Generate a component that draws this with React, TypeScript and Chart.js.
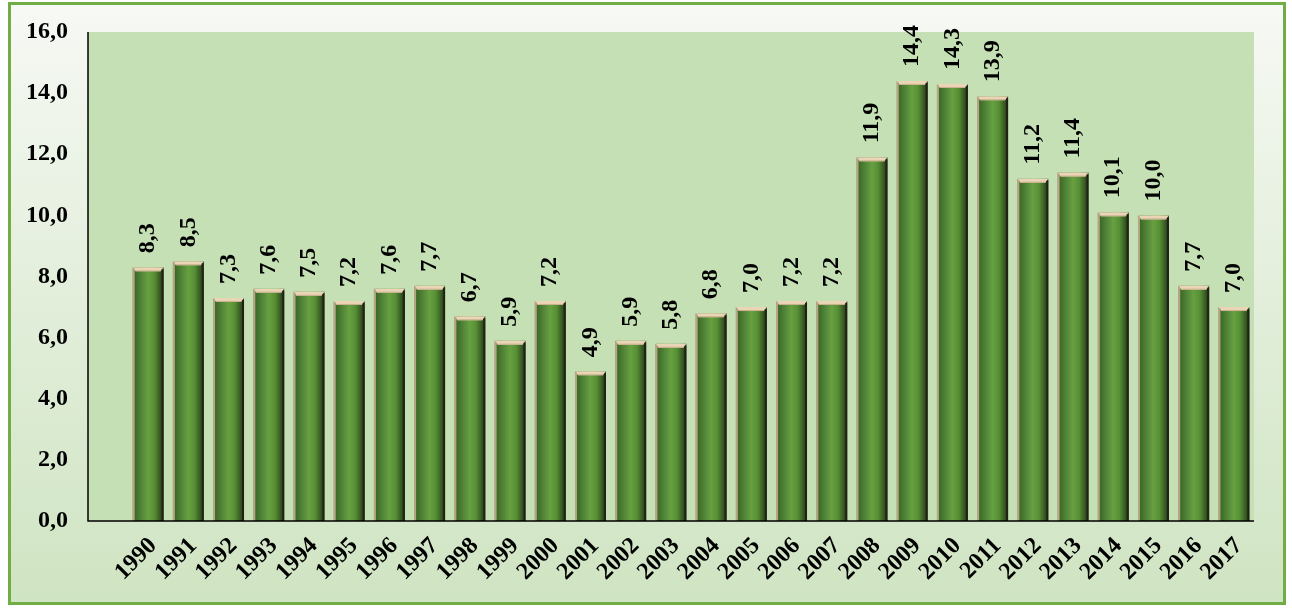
import React, { useEffect, useRef } from "react";
import { Chart, registerables } from "chart.js";

Chart.register(...registerables);

const years = [
  "1990", "1991", "1992", "1993", "1994", "1995", "1996", "1997", "1998", "1999",
  "2000", "2001", "2002", "2003", "2004", "2005", "2006", "2007", "2008", "2009",
  "2010", "2011", "2012", "2013", "2014", "2015", "2016", "2017",
];
const values = [
  8.3, 8.5, 7.3, 7.6, 7.5, 7.2, 7.6, 7.7, 6.7, 5.9,
  7.2, 4.9, 5.9, 5.8, 6.8, 7.0, 7.2, 7.2, 11.9, 14.4,
  14.3, 13.9, 11.2, 11.4, 10.1, 10.0, 7.7, 7.0,
];
const yMin = 0;
const yMax = 16;
const yStep = 2;

const FONT_FAMILY = "'Liberation Serif', 'Times New Roman', serif";
const FONT_SIZE = 24;
const fmt = (v: number) => v.toFixed(1).replace(".", ",");
const EXT_LEFT = 40;

const framePlugin = {
  id: "frame",
  beforeDraw(chart: any) {
    const { ctx, height, chartArea } = chart;
    ctx.save();
    const g = ctx.createLinearGradient(0, 0, 0, height);
    g.addColorStop(0, "#f7f9f5");
    g.addColorStop(0.5, "#e2eeda");
    g.addColorStop(1, "#cfe4c2");
    ctx.fillStyle = g;
    ctx.fillRect(9, 3, 1276, 601);
    ctx.strokeStyle = "#70AD47";
    ctx.lineWidth = 3;
    ctx.strokeRect(9.5, 3.5, 1275, 600);
    ctx.fillStyle = "#C5E0B4";
    ctx.fillRect(
      chartArea.left - EXT_LEFT,
      chartArea.top,
      chartArea.right - chartArea.left + EXT_LEFT,
      chartArea.bottom - chartArea.top
    );
    ctx.restore();
  },
  afterDatasetsDraw(chart: any) {
    const { ctx, chartArea } = chart;
    const meta = chart.getDatasetMeta(0);
    ctx.save();
    meta.data.forEach((bar: any) => {
      const w = bar.width;
      const l = bar.x - w / 2;
      const r = bar.x + w / 2;
      const t = bar.y;
      ctx.fillStyle = "#ead5b6";
      ctx.beginPath();
      ctx.moveTo(l, t);
      ctx.lineTo(r, t);
      ctx.lineTo(r - 3, t + 4);
      ctx.lineTo(l + 3, t + 4);
      ctx.closePath();
      ctx.fill();
      ctx.fillStyle = "#c9b08e";
      ctx.fillRect(l + 3, t + 3, w - 6, 1);
      ctx.fillStyle = "rgba(190,170,140,0.9)";
      ctx.fillRect(l, t + 1, 2, chartArea.bottom - t - 1);
      ctx.fillStyle = "rgba(30,30,20,0.85)";
      ctx.fillRect(r - 2, t + 2, 2, chartArea.bottom - t - 2);
    });
    ctx.strokeStyle = "#000";
    ctx.lineWidth = 1.5;
    ctx.beginPath();
    ctx.moveTo(chartArea.left - EXT_LEFT, chartArea.top);
    ctx.lineTo(chartArea.left - EXT_LEFT, chartArea.bottom);
    ctx.lineTo(chartArea.right, chartArea.bottom);
    ctx.stroke();
    ctx.fillStyle = "#000";
    ctx.font = `bold ${FONT_SIZE}px ${FONT_FAMILY}`;
    ctx.textAlign = "left";
    ctx.textBaseline = "middle";
    meta.data.forEach((bar: any, i: number) => {
      ctx.save();
      ctx.translate(bar.x, bar.y - 14);
      ctx.rotate(-Math.PI / 2);
      ctx.fillText(fmt(values[i]), 0, 0);
      ctx.restore();
    });
    ctx.restore();
  },
};

export default function App() {
  const ref = useRef<HTMLCanvasElement>(null);
  useEffect(() => {
    if (!ref.current) return;
    const chart = new Chart(ref.current, {
      type: "bar",
      data: {
        labels: years,
        datasets: [
          {
            data: values,
            barPercentage: 0.77,
            categoryPercentage: 1,
            borderWidth: 0,
            backgroundColor: (c: any) => {
              const ch = c.chart;
              const xs = ch.scales && ch.scales.x;
              const fallback = "#4f8a2f";
              if (!xs || c.dataIndex === undefined || !(xs.width > 0)) return fallback;
              const cx = xs.getPixelForValue(c.dataIndex);
              const w = (xs.width / years.length) * 0.77;
              if (!isFinite(cx) || !isFinite(w)) return fallback;
              const g = ch.ctx.createLinearGradient(cx - w / 2, 0, cx + w / 2, 0);
              g.addColorStop(0, "#8f8a6a");
              g.addColorStop(0.08, "#3d6b25");
              g.addColorStop(0.3, "#53873a");
              g.addColorStop(0.5, "#67a040");
              g.addColorStop(0.7, "#578f35");
              g.addColorStop(0.88, "#375a22");
              g.addColorStop(1, "#222d18");
              return g;
            },
          },
        ],
      },
      options: {
        animation: false,
        responsive: false,
        devicePixelRatio: 1,
        layout: { padding: { top: 32, right: 38, bottom: 0, left: 0 } },
        plugins: {
          legend: { display: false },
          tooltip: { enabled: false },
          title: { display: false },
        },
        scales: {
          x: {
            grid: { display: false, drawTicks: false },
            border: { display: false },
            ticks: {
              autoSkip: false,
              maxRotation: 45,
              minRotation: 45,
              padding: 11,
              labelOffset: 5,
              color: "#000",
              font: { family: FONT_FAMILY, size: FONT_SIZE, weight: "bold" },
            },
            afterFit: (s: any) => {
              s.height = 87;
              s.paddingLeft = 0;
              s.paddingRight = 0;
            },
          },
          y: {
            min: yMin,
            max: yMax,
            grid: { display: false, drawTicks: false },
            border: { display: false },
            ticks: {
              stepSize: yStep,
              padding: 60,
              color: "#000",
              font: { family: FONT_FAMILY, size: FONT_SIZE, weight: "bold" },
              callback: (v: any) => fmt(Number(v)),
            },
            afterFit: (s: any) => {
              s.width = 128;
              s.paddingTop = 0;
              s.paddingBottom = 0;
            },
          },
        },
      },
      plugins: [framePlugin],
    });
    return () => chart.destroy();
  }, []);
  return (
    <div style={{ position: "absolute", left: 0, top: 0, width: 1292, height: 608 }}>
      <canvas ref={ref} width={1292} height={608} style={{ display: "block" }} />
    </div>
  );
}
